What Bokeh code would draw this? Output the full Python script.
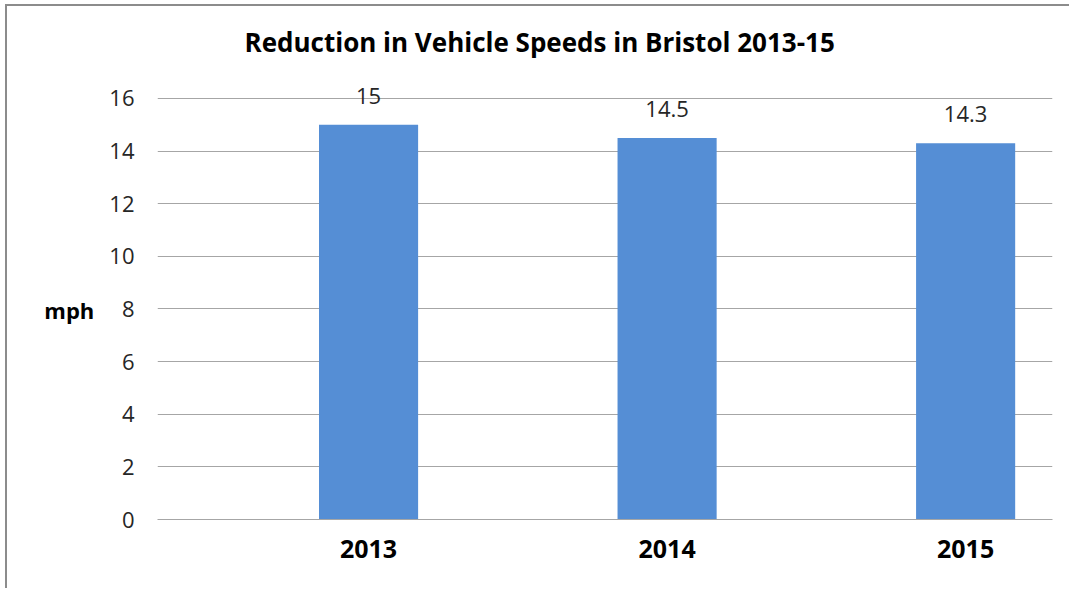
from bokeh.plotting import figure
from bokeh.models import Range1d, FixedTicker
from bokeh.embed import file_html
from bokeh.resources import INLINE
from bokeh.core.properties import value

# ---- data ----
years = ["2013", "2014", "2015"]
speeds = [15, 14.5, 14.3]
y_ticks = [0, 2, 4, 6, 8, 10, 12, 14, 16]
title_text = "Reduction in Vehicle Speeds in Bristol 2013-15"
y_label = "mph"

xs = list(range(len(years)))
labels = [f"{v:g}" for v in speeds]

FONT = "Open Sans"
BAR = "#558ed5"
GRID = "#a6a6a6"
TXT = "#262626"

p = figure(width=1064, height=584, title=title_text,
           x_range=Range1d(-0.707, 2.291), y_range=Range1d(0, 17.292),
           output_backend="svg", toolbar_location=None,
           min_border_left=150, min_border_right=19,
           min_border_top=58, min_border_bottom=71)
p.outline_line_color = None
p.background_fill_color = "white"
p.border_fill_color = "white"

p.vbar(x=xs, top=speeds, width=0.332, fill_color=BAR, line_color=None)

p.text(x=xs, y=speeds, text=labels, text_align="center",
       text_baseline="alphabetic", y_offset=-29,
       text_font=value(FONT), text_font_size="22px", text_color=TXT)

# grid
p.xgrid.grid_line_color = None
p.ygrid.grid_line_color = GRID
p.ygrid.grid_line_width = 1

# y axis
p.yaxis.ticker = FixedTicker(ticks=y_ticks)
p.yaxis.axis_line_color = None
p.yaxis.major_tick_line_color = None
p.yaxis.minor_tick_line_color = None
p.yaxis.major_label_standoff = 17
p.yaxis.major_label_text_font = FONT
p.yaxis.major_label_text_font_size = "22px"
p.yaxis.major_label_text_color = TXT
p.yaxis.axis_label = "\n" + y_label
p.yaxis.axis_label_orientation = "horizontal"
p.yaxis.axis_label_text_font = FONT
p.yaxis.axis_label_text_font_size = "22px"
p.yaxis.axis_label_text_font_style = "bold"
p.yaxis.axis_label_text_color = "#000000"
p.yaxis.axis_label_standoff = 12

# x axis
p.xaxis.ticker = FixedTicker(ticks=xs)
p.xaxis.major_label_overrides = {i: y for i, y in zip(xs, years)}
p.xaxis.axis_line_color = GRID
p.xaxis.major_tick_line_color = None
p.xaxis.minor_tick_line_color = None
p.xaxis.major_label_standoff = 14
p.xaxis.major_label_text_font = FONT
p.xaxis.major_label_text_font_size = "25px"
p.xaxis.major_label_text_font_style = "bold"
p.xaxis.major_label_text_color = "#000000"

# title
p.title.align = "left"
p.title.offset = 87
p.title.standoff = 9
p.title.text_font = FONT
p.title.text_font_size = "26px"
p.title.text_font_style = "bold"
p.title.text_color = "#000000"

p.styles = {"margin-left": "5px", "margin-top": "4px",
            "border-left": "2px solid #8c8c8c",
            "border-top": "2px solid #8c8c8c"}

open("out.html", "w").write(file_html(p, INLINE))
